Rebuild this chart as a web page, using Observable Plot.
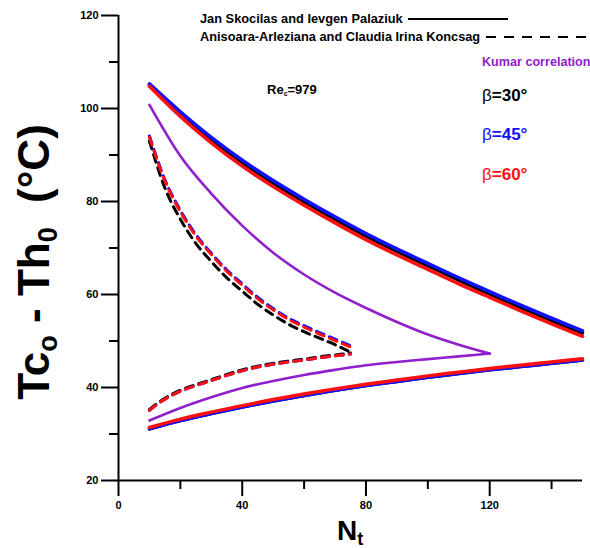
<!DOCTYPE html>
<html><head><meta charset="utf-8">
<script src="https://cdn.jsdelivr.net/npm/d3@7"></script>
<script src="https://cdn.jsdelivr.net/npm/@observablehq/plot@0.6"></script>
<style>
body{margin:0;background:#fff}
svg{font-family:"Liberation Sans",Arial,sans-serif}
</style>
</head><body><div id="chart"></div>
<script>
// ---- data ----
const xTicks = [0, 40, 80, 120];
const xMinor = [20, 60, 100, 140];
const yTicks = [20, 40, 60, 80, 100, 120];
const yMinor = [30, 50, 70, 90, 110];

// Jan Skocilas & Ievgen Palaziuk (solid)
const NtJ = [10, 20, 30, 40, 50, 60, 70, 80, 90, 100, 110, 120, 130, 140, 150];
const janUp30 = [105.0, 98.8, 93.3, 88.4, 84.0, 80.0, 76.2, 72.6, 69.3, 66.2, 63.1, 60.1, 57.2, 54.4, 51.7];
const janUp45 = [105.3, 99.3, 93.8, 88.9, 84.5, 80.5, 76.7, 73.1, 69.8, 66.7, 63.6, 60.6, 57.7, 54.9, 52.2];
const janUp60 = [104.8, 98.3, 92.6, 87.6, 83.2, 79.2, 75.4, 71.8, 68.5, 65.4, 62.3, 59.4, 56.5, 53.7, 51.0];
const janLo30 = [31.1, 32.9, 34.4, 35.8, 37.1, 38.3, 39.4, 40.4, 41.3, 42.2, 43.0, 43.8, 44.5, 45.2, 45.9];
const janLo45 = [31.1, 32.9, 34.4, 35.8, 37.1, 38.3, 39.4, 40.4, 41.3, 42.2, 43.0, 43.8, 44.5, 45.2, 45.9];
const janLo60 = [31.4, 33.2, 34.7, 36.1, 37.4, 38.6, 39.7, 40.7, 41.6, 42.5, 43.3, 44.1, 44.8, 45.5, 46.2];

// Kumar correlation
const NtK = [10, 20, 30, 40, 50, 60, 70, 80, 90, 100, 110, 120];
const kumarUp = [100.8, 89.8, 81.7, 74.8, 69.0, 64.3, 60.4, 57.1, 54.1, 51.4, 49.2, 47.3];
const kumarLo = [32.9, 35.6, 37.9, 39.9, 41.4, 42.7, 43.8, 44.8, 45.5, 46.1, 46.7, 47.3];

// Anisoara-Arleziana & Claudia Irina Koncsag (dashed)
const NtA = [10, 15, 20, 25, 30, 35, 40, 45, 50, 55, 60, 65, 70, 75];
const konUp30 = [93.0, 82.9, 76.2, 71.0, 67.1, 63.6, 60.7, 57.9, 55.6, 53.6, 52.0, 50.6, 49.2, 47.6];
const konUp45 = [94.1, 84.7, 78.1, 72.9, 68.9, 65.3, 62.3, 59.4, 57.0, 54.9, 53.3, 51.8, 50.4, 49.0];
const konUp60 = [93.8, 84.4, 77.8, 72.6, 68.6, 65.0, 62.0, 59.1, 56.7, 54.6, 53.0, 51.5, 50.1, 48.7];
const konLo30 = [35.3, 37.7, 39.4, 40.6, 41.7, 42.8, 43.8, 44.6, 45.2, 45.7, 46.1, 46.6, 47.0, 47.4];
const konLo45 = [35.1, 37.5, 39.2, 40.4, 41.5, 42.6, 43.6, 44.4, 45.0, 45.5, 45.9, 46.4, 46.8, 47.2];
const konLo60 = [35.1, 37.5, 39.2, 40.4, 41.5, 42.6, 43.6, 44.4, 45.0, 45.5, 45.9, 46.4, 46.8, 47.2];

const BLACK = "#000000", BLUE = "#1010ff", RED = "#ff1010", PURPLE = "#9020cc";

const rows = (xs, ys) => xs.map((x, i) => ({x, y: ys[i]}));
const solid = (xs, ys, c, w) => Plot.line(rows(xs, ys), {x: "x", y: "y", stroke: c, strokeWidth: w, curve: "monotone-x"});
const dashed = (xs, ys, c, w) => Plot.line(rows(xs, ys), {x: "x", y: "y", stroke: c, strokeWidth: w, strokeDasharray: "8,6", curve: "monotone-x"});

function annotations() {
  const g = d3.create("svg:g")
    .attr("font-family", "'Liberation Sans', Arial, sans-serif")
    .attr("text-anchor", "start");
  // legend
  g.append("text").attr("x", 200).attr("y", 23).attr("font-size", 12.8).attr("font-weight", "bold")
    .text("Jan Skocilas and Ievgen Palaziuk");
  g.append("line").attr("x1", 408).attr("x2", 508).attr("y1", 19).attr("y2", 19)
    .attr("stroke", "#000").attr("stroke-width", 2.2);
  g.append("text").attr("x", 200).attr("y", 41).attr("font-size", 12.8).attr("font-weight", "bold")
    .text("Anisoara-Arleziana and Claudia Irina Koncsag");
  g.append("line").attr("x1", 486).attr("x2", 592).attr("y1", 37).attr("y2", 37)
    .attr("stroke", "#000").attr("stroke-width", 2.2).attr("stroke-dasharray", "10,8");
  g.append("text").attr("x", 482).attr("y", 66).attr("font-size", 12.6).attr("font-weight", "bold")
    .attr("fill", PURPLE).text("Kumar correlation");
  [["30", BLACK, 101], ["45", BLUE, 140], ["60", RED, 180]].forEach(([a, c, y]) => {
    const t = g.append("text").attr("x", 482).attr("y", y).attr("font-size", 17).attr("fill", c);
    t.append("tspan").text("β");
    t.append("tspan").attr("font-weight", "bold").text("=" + a + "°");
  });
  const re = g.append("text").attr("x", 267).attr("y", 94).attr("font-size", 13).attr("font-weight", "bold");
  re.append("tspan").text("Re");
  re.append("tspan").attr("font-size", 7).attr("dy", 2).text("c");
  re.append("tspan").attr("dy", -2).text("=979");
  // axis titles
  const yt = g.append("text").attr("transform", "translate(49,262) rotate(-90)")
    .attr("text-anchor", "middle").attr("font-size", 44).attr("font-weight", "bold");
  yt.append("tspan").text("Tc");
  yt.append("tspan").attr("font-size", 27).attr("dy", 8).text("o");
  yt.append("tspan").attr("dy", -8).text(" - Th");
  yt.append("tspan").attr("font-size", 27).attr("dy", 8).text("0");
  yt.append("tspan").attr("dy", -8).text("  (°C)");
  const xt = g.append("text").attr("x", 337).attr("y", 540).attr("font-size", 28).attr("font-weight", "bold");
  xt.append("tspan").text("N");
  xt.append("tspan").attr("font-size", 18).attr("dy", 5).text("t");
  return g.node();
}

const chart = Plot.plot({
  width: 590, height: 548,
  marginLeft: 118, marginRight: 8, marginTop: 15, marginBottom: 68,
  x: {domain: [0, 150]},
  y: {domain: [20, 120]},
  style: {fontFamily: "'Liberation Sans', Arial, sans-serif", background: "#fff"},
  marks: [
    Plot.ruleY([20], {x1: 0, x2: 150, stroke: "#000", strokeWidth: 2}),
    Plot.ruleX([0], {y1: 20, y2: 120, stroke: "#000", strokeWidth: 2}),
    Plot.axisX(xTicks, {tickSize: 16, tickPadding: 5, strokeWidth: 2, fontSize: 11, fontWeight: "bold", label: null, color: "#000"}),
    Plot.axisX(xMinor, {tickSize: 9, strokeWidth: 2, tickFormat: () => "", label: null}),
    Plot.axisY(yTicks, {tickSize: 17, tickPadding: 3, strokeWidth: 2, fontSize: 11, fontWeight: "bold", label: null}),
    Plot.axisY(yMinor, {tickSize: 9, strokeWidth: 2, tickFormat: () => "", label: null}),
    // Kumar
    solid(NtK, kumarUp, PURPLE, 2.6),
    solid(NtK, kumarLo, PURPLE, 2.6),
    // Koncsag dashed
    dashed(NtA, konUp30, BLACK, 3),
    dashed(NtA, konLo30, BLACK, 3),
    dashed(NtA, konUp45, BLUE, 3),
    dashed(NtA, konLo45, BLUE, 3),
    dashed(NtA, konUp60, RED, 3),
    dashed(NtA, konLo60, RED, 3),
    // Jan solid
    solid(NtJ, janUp30, BLACK, 3.5),
    solid(NtJ, janLo30, BLACK, 3.5),
    solid(NtJ, janUp45, BLUE, 3.5),
    solid(NtJ, janLo45, BLUE, 3.5),
    solid(NtJ, janUp60, RED, 3.5),
    solid(NtJ, janLo60, RED, 3.5),
    annotations
  ]
});
document.getElementById("chart").appendChild(chart);
</script>
</body></html>
